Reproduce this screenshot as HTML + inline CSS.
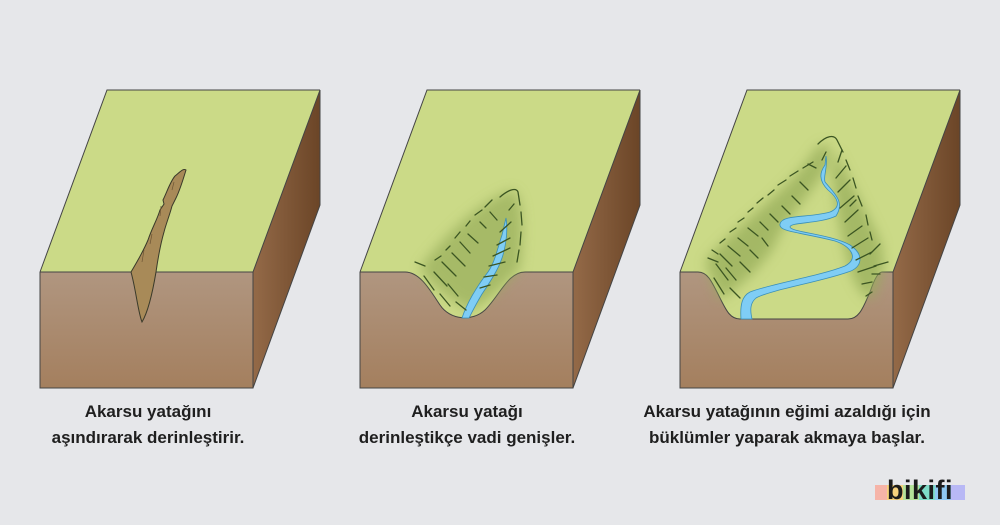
<!DOCTYPE html>
<html><head><meta charset="utf-8"><style>
html,body{margin:0;padding:0;background:#e6e7ea;}
svg{display:block}
text{font-family:"Liberation Sans",sans-serif;font-weight:bold;font-size:17px;fill:#1f1f1f;text-anchor:middle}
</style></head><body>
<svg width="1000" height="525" viewBox="0 0 1000 525" xmlns="http://www.w3.org/2000/svg">
<defs>
<linearGradient id="fr" x1="0" y1="0" x2="0" y2="1"><stop offset="0" stop-color="#b09680"/><stop offset="1" stop-color="#a47f5e"/></linearGradient>
<linearGradient id="sd" x1="0" y1="0" x2="1" y2="0"><stop offset="0" stop-color="#946a48"/><stop offset="1" stop-color="#6b4527"/></linearGradient>
<filter id="bl" x="-20%" y="-20%" width="140%" height="140%"><feGaussianBlur stdDeviation="6"/></filter>
<g id="box">
<polygon points="0,272 67,90 280,90 213,272" fill="#cbda87"/>
<path d="M0,272 L67,90 L280,90" fill="none" stroke="#444" stroke-width="1"/>
<polygon points="213,272 280,90 280,205 213,388" fill="url(#sd)" stroke="#444" stroke-width="1"/>
<rect x="0" y="272" width="213" height="116" fill="url(#fr)"/>
<path d="M0,272 L0,388 L213,388 L213,272" fill="none" stroke="#444" stroke-width="1"/>
</g>
</defs>

<!-- Block 1 -->
<use href="#box" x="40"/>
<line x1="40" y1="272" x2="253" y2="272" stroke="#444" stroke-width="1"/>
<path d="M131,272 C137,262 143,252 148,240 C152,228 157,220 160,210 L164,204 L163,200 C167,192 170,182 175,176 C180,172 183,168 186,170 C183,180 180,190 176,198 L172,206 C170,214 166,224 164,232 C160,246 158,258 156,272 C153,290 148,312 142,322 C138,312 136,290 131,272 Z" fill="#a88a58" stroke="#3a3a2a" stroke-width="1"/>
<path d="M142,262 L144,250 M150,244 L152,234 M160,216 L161,206 M172,190 L174,182" stroke="#6d5535" stroke-width="0.7"/>

<!-- Block 2 -->
<use href="#box" x="360"/>
<path d="M405,272 C420,272 430,290 440,305 C450,320 472,322 485,310 C500,295 508,272 525,272 Z" fill="#cbda87"/>
<path d="M360,272 L405,272 C420,272 430,290 440,305 C450,320 472,322 485,310 C500,295 508,272 525,272 L573,272" fill="none" stroke="#444" stroke-width="1"/>
<path d="M420,268 C440,240 480,200 512,190 C525,195 523,240 520,268 C505,285 490,300 470,310 C450,300 430,285 420,268 Z" fill="#97ad5a" opacity="0.7" filter="url(#bl)"/>
<path d="M462,318 C468,300 478,285 488,272 C495,262 497,250 502,235 L506,218 C508,230 506,246 502,258 C498,270 490,282 482,294 C476,304 472,312 469,318 Z" fill="#7fcdf5" stroke="#3a8fb8" stroke-width="0.8"/>
<g stroke="#3b5522" stroke-width="1.3" fill="none" stroke-linecap="round">
<path d="M500,197 C508,190 516,187 518,192 L520,205 M521,212 L522,225 M521,232 L520,245 M519,250 L517,262"/>
<path d="M485,207 L492,200 M475,215 L482,210 M466,226 L470,221 M455,238 L460,232 M446,250 L450,246 M435,260 L441,256 M415,262 L425,266"/>
<path d="M424,276 L434,290 M434,272 L447,286 M442,262 L456,276 M452,253 L465,266 M460,242 L470,253 M468,234 L478,243 M480,222 L486,228 M490,212 L497,220 M448,284 L458,296 M456,302 L466,310 M440,294 L450,306"/>
<path d="M500,232 L511,222 M497,245 L510,238 M493,256 L510,248 M489,266 L505,262 M484,277 L497,275 M480,288 L490,285 M509,210 L514,204"/>
</g>

<!-- Block 3 -->
<use href="#box" x="680"/>
<path d="M698,272 C708,272 712,282 720,298 C726,310 730,319 740,319 L848,319 C860,319 864,305 870,292 C874,280 878,272 882,272 Z" fill="#cbda87"/>
<path d="M680,272 L698,272 C708,272 712,282 720,298 C726,310 730,319 740,319 L848,319 C860,319 864,305 870,292 C874,280 878,272 882,272 L893,272" fill="none" stroke="#444" stroke-width="1"/>
<path d="M705,262 C730,230 790,190 815,150 C825,140 832,140 828,165 C815,190 780,225 775,245 C760,270 735,290 720,300 Z" fill="#97ad5a" opacity="0.75" filter="url(#bl)"/>
<path d="M835,150 C845,170 860,200 875,230 C888,255 885,280 870,300 C855,290 850,270 845,250 C840,230 835,200 832,170 Z" fill="#97ad5a" opacity="0.75" filter="url(#bl)"/>
<path d="M741,319 C740,305 742,296 750,292 C770,284 820,276 845,266 C860,258 850,246 835,241 C800,232 778,232 780,224 C782,214 810,218 830,212 C842,207 838,198 828,190 C818,180 820,172 825,165 L826,156 C828,168 823,176 825,182 C835,194 845,202 836,216 C820,224 790,222 790,227 C790,232 830,234 850,245 C865,255 862,268 848,272 C820,282 770,290 756,298 C750,303 750,310 752,319 Z" fill="#7fcdf5" stroke="#3a8fb8" stroke-width="0.8"/>
<g stroke="#3b5522" stroke-width="1.3" fill="none" stroke-linecap="round">
<path d="M818,144 C826,136 834,134 837,140 L843,152 M846,160 L850,170 M853,178 L856,188 M858,196 L862,206 M866,215 L868,225 M870,232 L872,240"/>
<path d="M803,168 L813,162 M790,176 L798,171 M778,185 L786,180 M768,195 L774,190 M757,203 L763,198 M748,212 L753,208 M738,222 L744,218 M730,232 L736,228 M720,243 L725,239 M708,258 L718,262 M712,250 L718,254"/>
<path d="M800,182 L808,190 M808,164 L816,168 M792,196 L800,204 M782,206 L790,214 M770,214 L778,222 M760,222 L768,230 M748,228 L758,236 M738,238 L748,246 M728,246 L740,256 M720,254 L732,266 M716,264 L728,280 M726,268 L736,280 M740,262 L750,272 M750,250 L758,258 M762,238 L768,246 M714,278 L724,294 M730,288 L740,298 M822,160 L826,152"/>
<path d="M838,162 L842,150 M836,178 L846,166 M838,192 L850,180 M840,208 L854,196 M845,222 L858,210 M848,236 L862,226 M852,248 L868,238 M856,260 L872,252 M858,272 L876,266 M862,284 L872,282 M866,296 L872,292 M850,206 L856,200 M870,254 L880,244 M874,266 L888,262 M872,274 L880,274"/>
</g>

<!-- Labels -->
<text x="148" y="417">Akarsu yatağını</text>
<text x="148" y="443">aşındırarak derinleştirir.</text>
<text x="467" y="417">Akarsu yatağı</text>
<text x="467" y="443">derinleştikçe vadi genişler.</text>
<text x="787" y="417">Akarsu yatağının eğimi azaldığı için</text>
<text x="787" y="443">büklümler yaparak akmaya başlar.</text>

<!-- logo -->
<rect x="875" y="485" width="12" height="15" fill="#f6b4a8"/>
<rect x="887" y="485" width="16" height="15" fill="#f7d27d"/>
<rect x="903" y="485" width="16" height="15" fill="#b5e39a"/>
<rect x="919" y="485" width="16" height="15" fill="#7fdcc8"/>
<rect x="935" y="485" width="16" height="15" fill="#8fc8f2"/>
<rect x="951" y="485" width="14" height="15" fill="#b8b8f5"/>
<text x="920" y="499" style="font-size:27px;fill:#1c1c1c;letter-spacing:0.5px">bikifi</text>
</svg>
</body></html>
